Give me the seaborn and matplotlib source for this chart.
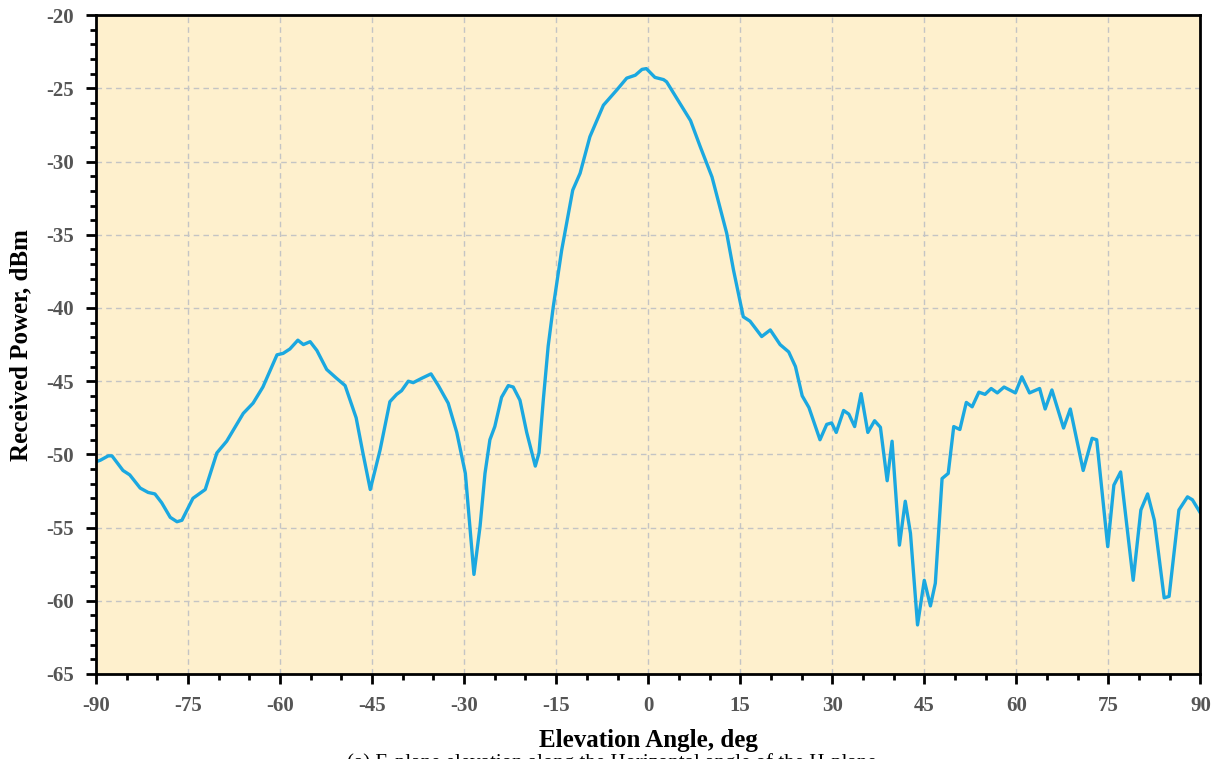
import numpy as np
import pandas as pd
import matplotlib
matplotlib.use("Agg")
import matplotlib.pyplot as plt
from matplotlib.ticker import MultipleLocator
import seaborn as sns

angle = [-90, -89.3, -88, -87.4, -85.6, -84.5, -82.8, -81.5, -80.4, -79.3,
         -77.9, -76.8, -76, -74.2, -72.2, -70.3, -68.7, -66, -64.4, -62.8,
         -60.5, -59.5, -58.4, -57.1, -56.2, -55.1, -54, -52.4, -50.8, -49.4,
         -47.6, -46.5, -45.3, -43.7, -42.1, -41, -40.2, -39.1, -38.3, -36.9,
         -35.4, -34.2, -32.6, -31.2, -29.8, -28.4, -27.4, -26.6, -25.8, -25,
         -23.9, -22.8, -22, -20.9, -19.8, -18.4, -17.8, -17.1, -16.3, -15.5,
         -14.1, -12.3, -11.1, -9.5, -7.3, -5.1, -3.5, -2.1, -1.0, -0.3,
         1.1, 2.5, 3.0, 4.7, 6.9, 8.5, 10.4, 12.8, 13.9, 15.5,
         16.6, 18.5, 19.9, 21.5, 22.9, 24.0, 25.1, 26.2, 28.0, 29.1,
         29.9, 30.65, 31.85, 32.7, 33.65, 34.7, 35.8, 36.9, 37.85, 38.95,
         39.75, 40.95, 41.9, 42.75, 43.9, 45.0, 46.0, 46.8, 47.9, 48.9,
         49.8, 50.8, 51.85, 52.8, 53.9, 54.9, 55.9, 56.9, 58.0, 59.85,
         60.9, 62.15, 63.8, 64.7, 65.8, 67.7, 68.8, 70.9, 72.35, 73.1,
         74.9, 75.9, 77.0, 79.05, 80.3, 81.4, 82.5, 84.1, 84.9, 86.5,
         87.9, 88.7, 90]
power = [-50.5, -50.4, -50.1, -50.1, -51.1, -51.4, -52.3, -52.6, -52.7, -53.3,
         -54.3, -54.6, -54.5, -53.0, -52.4, -49.9, -49.1, -47.2, -46.5, -45.4,
         -43.2, -43.1, -42.8, -42.2, -42.5, -42.3, -42.9, -44.2, -44.8, -45.3,
         -47.5, -49.9, -52.4, -49.7, -46.4, -45.9, -45.65, -45.0, -45.1, -44.8,
         -44.5, -45.3, -46.5, -48.5, -51.3, -58.2, -54.9, -51.3, -49.0, -48.1,
         -46.1, -45.3, -45.4, -46.3, -48.5, -50.8, -49.9, -46.3, -42.6, -40.0,
         -36.05, -31.95, -30.8, -28.3, -26.15, -25.1, -24.3, -24.1, -23.7, -23.65,
         -24.25, -24.4, -24.55, -25.7, -27.2, -29.0, -31.05, -34.9, -37.4, -40.6,
         -40.9, -41.95, -41.5, -42.5, -43.0, -44.0, -46.0, -46.8, -49.0, -47.95,
         -47.85, -48.5, -47.0, -47.25, -48.1, -45.85, -48.5, -47.7, -48.15, -51.8,
         -49.1, -56.2, -53.2, -55.4, -61.65, -58.6, -60.35, -58.8, -51.65, -51.3,
         -48.1, -48.3, -46.45, -46.75, -45.75, -45.9, -45.5, -45.8, -45.4, -45.8,
         -44.7, -45.8, -45.5, -46.9, -45.6, -48.2, -46.9, -51.1, -48.9, -49.0,
         -56.3, -52.1, -51.2, -58.6, -53.8, -52.7, -54.5, -59.8, -59.7, -53.8,
         -52.9, -53.1, -54.0]

x_ticks = np.arange(-90, 91, 15)
y_ticks = np.arange(-65, -19, 5)

df = pd.DataFrame({"angle": angle, "power": power})

sns.set_style("ticks")
plt.rcParams["font.family"] = ["Liberation Serif", "DejaVu Serif"]
plt.rcParams["font.weight"] = "bold"
plt.rcParams["axes.unicode_minus"] = False

fig = plt.figure(figsize=(12.23, 7.59), dpi=100)
ax = fig.add_axes([0.0785, 0.112, 0.903, 0.868])
ax.set_facecolor("#FEF0CD")

sns.lineplot(data=df, x="angle", y="power", ax=ax, color="#1BA8E0",
             linewidth=2.4, sort=False, solid_joinstyle="round")

ax.set_xlim(-90, 90)
ax.set_ylim(-65, -20)
ax.set_xticks(x_ticks)
ax.set_yticks(y_ticks)
ax.xaxis.set_minor_locator(MultipleLocator(5))
ax.yaxis.set_minor_locator(MultipleLocator(1))
ax.grid(True, which="major", linestyle=(0, (4, 3)), color="#C4C4C4", linewidth=1)

for s in ax.spines.values():
    s.set_linewidth(2)
    s.set_color("black")

ax.tick_params(which="major", direction="out", length=7, width=2, colors="black",
               labelcolor="#555555", labelsize=15)
ax.tick_params(which="minor", direction="out", length=4, width=2, colors="black")
ax.tick_params(axis="x", pad=9)
ax.tick_params(axis="y", pad=9)

ax.set_xlabel("Elevation Angle, deg", fontsize=18, fontweight="bold",
              color="black", labelpad=9)
ax.set_ylabel("Received Power, dBm", fontsize=18, fontweight="bold",
              color="black", labelpad=10)

# figure caption, cut by the lower edge as in the source
fig.text(0.50, 0.0075, "(a) E-plane elevation along the Horizontal angle of the H-plane",
         ha="center", va="top", fontsize=15, fontweight="normal", color="black")

fig.savefig("out.png", dpi=100)
